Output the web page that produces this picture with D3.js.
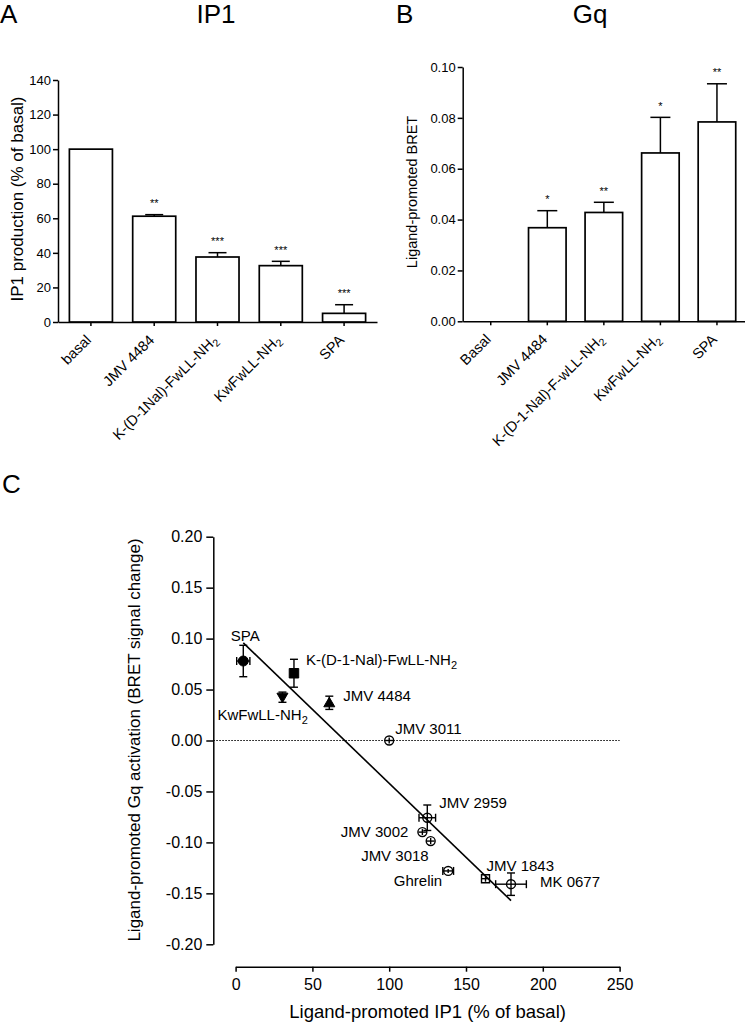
<!DOCTYPE html>
<html><head><meta charset="utf-8">
<script src="https://cdn.jsdelivr.net/npm/d3@7"></script>
<style>
body{margin:0;background:#fff}
svg{display:block}
text{font-family:"Liberation Sans",Arial,sans-serif;fill:#000}
</style>
</head><body>
<svg id="chart" width="745" height="1024"></svg>
<script>
// ---------------- DATA ----------------
// Panel A: IP1
const categoriesA = ["basal", "JMV 4484", "K-(D-1Nal)-FwLL-NH_2", "KwFwLL-NH_2", "SPA"];
const valuesA = [100, 61.2, 37.6, 32.6, 5.0];
const errorsA = [0, 0.9, 2.5, 2.5, 5.0];
const starsA = ["", "**", "***", "***", "***"];
const ticksA = [0, 20, 40, 60, 80, 100, 120, 140];

// Panel B: Gq
const categoriesB = ["Basal", "JMV 4484", "K-(D-1-Nal)-F-wLL-NH_2", "KwFwLL-NH_2", "SPA"];
const valuesB = [0, 0.0368, 0.0428, 0.0662, 0.0784];
const errorsB = [0, 0.0067, 0.0040, 0.0140, 0.0150];
const starsB = ["", "*", "**", "*", "**"];
const ticksB = [0, 0.02, 0.04, 0.06, 0.08, 0.10];

// Panel C: correlation
const ligandsC = ["SPA", "K-(D-1-Nal)-FwLL-NH_2", "KwFwLL-NH_2", "JMV 4484", "JMV 3011",
                  "JMV 2959", "JMV 3002", "JMV 3018", "Ghrelin", "JMV 1843", "MK 0677"];
const ip1C   = [5, 38, 30.5, 61, 100, 124.8, 121.6, 127, 138.4, 162.7, 179.3];
const ip1ErrC = [4.3, 0, 0, 0, 2.5, 5.4, 2.5, 2.5, 3.5, 2.5, 10];
const gqC    = [0.078, 0.066, 0.0425, 0.037, 0, -0.0758, -0.0899, -0.0987, -0.128, -0.1356, -0.141];
const gqErrC = [0.0154, 0.0137, 0.005, 0.0065, 0.003, 0.0125, 0.003, 0.003, 0.002, 0.003, 0.011];
const markersC = ["fcircle", "fsquare", "ftridown", "ftriup", "ocircle", "ocircle",
                  "ocircle", "ocircle", "ocircle", "osquare", "ocircle"];
const ticksCx = [0, 50, 100, 150, 200, 250];
const ticksCy = [-0.20, -0.15, -0.10, -0.05, 0, 0.05, 0.10, 0.15, 0.20];

// label layout (anchor, dx, dy in px relative to marker)
const labelLayoutC = [["middle", 2, -20], ["start", 12, -8], ["start", -65, 23], ["start", 14, -1.5],
  ["start", 6, -6.5], ["start", 12, -10], ["end", -14, 5.3], ["end", -2, 19.5],
  ["end", -6, 15], ["start", 1, -8], ["start", 29, 3]];

// ---------------- DRAW ----------------
const svg = d3.select("#chart");

function richText(sel, str, subSize) {
  const parts = str.split("_");
  sel.text(null);
  sel.append("tspan").text(parts[0]);
  if (parts.length > 1) sel.append("tspan").attr("font-size", subSize).attr("dy", "0.32em").text(parts[1]);
}
function styleAxis(g, fs) {
  g.selectAll("path, line").attr("stroke", "#000").attr("stroke-width", 1.5);
  g.selectAll("text").attr("font-size", fs).attr("font-family", '"Liberation Sans",Arial,sans-serif').attr("fill", "#000");
}

function barPanel(cfg) {
  const g = svg.append("g");
  const x = d3.scaleBand().domain(cfg.cats).range(cfg.xr).paddingInner(cfg.pi).paddingOuter(cfg.po);
  const y = d3.scaleLinear().domain(cfg.ydom).range(cfg.yr);
  const ya = g.append("g").attr("transform", `translate(${cfg.xr[0]},0)`)
    .call(d3.axisLeft(y).tickValues(cfg.ticks).tickFormat(cfg.fmt).tickSize(5).tickSizeOuter(0).tickPadding(2));
  styleAxis(ya, 13);
  const xa = g.append("g").attr("transform", `translate(0,${cfg.yr[0]})`)
    .call(d3.axisBottom(x).tickSize(4).tickSizeOuter(0).tickFormat(""));
  styleAxis(xa, 13);
  const bw = x.bandwidth();
  cfg.cats.forEach((c, i) => {
    const v = cfg.vals[i], e = cfg.errs[i];
    const cx = x(c) + bw / 2;
    if (v > 0) {
      g.append("rect").attr("x", x(c)).attr("width", bw)
        .attr("y", y(v)).attr("height", y(0) - y(v))
        .attr("fill", "#fff").attr("stroke", "#000").attr("stroke-width", 1.7);
    }
    if (e > 0) {
      g.append("line").attr("x1", cx).attr("x2", cx).attr("y1", y(v)).attr("y2", y(v + e))
        .attr("stroke", "#000").attr("stroke-width", 1.5);
      g.append("line").attr("x1", cx - cfg.cap / 2).attr("x2", cx + cfg.cap / 2)
        .attr("y1", y(v + e)).attr("y2", y(v + e)).attr("stroke", "#000").attr("stroke-width", 1.5);
    }
    if (cfg.stars[i]) {
      g.append("text").attr("x", cx).attr("y", y(v + e) - 7.5).attr("text-anchor", "middle")
        .attr("font-size", 11).text(cfg.stars[i]);
    }
    const t = g.append("text").attr("text-anchor", "end").attr("font-size", 14.5)
      .attr("transform", `translate(${cx + 1},${cfg.yr[0] + 19}) rotate(-45)`);
    richText(t, c, 10.5);
  });
  g.append("text").attr("text-anchor", "middle").attr("font-size", cfg.ytfs)
    .attr("transform", `translate(${cfg.ytx},${cfg.yty}) rotate(-90)`).text(cfg.ytitle);
  g.append("text").attr("x", cfg.letterX).attr("y", 23).attr("font-size", 26).text(cfg.letter);
  g.append("text").attr("x", cfg.titleX).attr("y", 23).attr("font-size", 26).attr("text-anchor", "middle").text(cfg.title);
}

barPanel({cats: categoriesA, vals: valuesA, errs: errorsA, stars: starsA, ticks: ticksA,
  fmt: d3.format("d"), xr: [58, 377], pi: 0.32, po: 0.18, ydom: [0, 140], yr: [322, 80], cap: 18,
  ytitle: "IP1 production (% of basal)", ytfs: 17, ytx: 22.5, yty: 199,
  letter: "A", letterX: 0, title: "IP1", titleX: 216});

barPanel({cats: categoriesB, vals: valuesB, errs: errorsB, stars: starsB, ticks: ticksB,
  fmt: d => d.toFixed(2), xr: [462.7, 745], pi: 0.336, po: 0.164, ydom: [0, 0.10], yr: [321.3, 67], cap: 20,
  ytitle: "Ligand-promoted BRET", ytfs: 14.5, ytx: 417, yty: 192,
  letter: "B", letterX: 396, title: "Gq", titleX: 590});

// ---------------- Panel C ----------------
const gC = svg.append("g");
const xC = d3.scaleLinear().domain([0, 250]).range([235.6, 619.6]);
const yC = d3.scaleLinear().domain([-0.2, 0.2]).range([944.3, 536.7]);
const yAxisX = 213.3, xAxisY = 966.7;

const yaC = gC.append("g").attr("transform", `translate(${yAxisX},0)`)
  .call(d3.axisLeft(yC).tickValues(ticksCy).tickFormat(d => d.toFixed(2)).tickSize(7).tickSizeOuter(0).tickPadding(4));
styleAxis(yaC, 16);
const xaC = gC.append("g").attr("transform", `translate(0,${xAxisY})`)
  .call(d3.axisBottom(xC).tickValues(ticksCx).tickFormat(d3.format("d")).tickSize(5).tickSizeOuter(0).tickPadding(6.5));
styleAxis(xaC, 16);

gC.append("line").attr("x1", yAxisX).attr("x2", xC(250)).attr("y1", yC(0)).attr("y2", yC(0))
  .attr("stroke", "#000").attr("stroke-width", 1).attr("stroke-dasharray", "1.5,1.5");

// regression line (least squares on the points)
const mx = d3.mean(ip1C), my = d3.mean(gqC);
let sxy = 0, sxx = 0;
ip1C.forEach((xv, i) => { sxy += (xv - mx) * (gqC[i] - my); sxx += (xv - mx) * (xv - mx); });
const slope = sxy / sxx, intercept = my - slope * mx;
const xmin = d3.min(ip1C), xmax = d3.max(ip1C);
gC.append("line").attr("x1", xC(xmin)).attr("x2", xC(xmax))
  .attr("y1", yC(intercept + slope * xmin)).attr("y2", yC(intercept + slope * xmax))
  .attr("stroke", "#000").attr("stroke-width", 1.6);

function markerShape(type) {
  if (type.endsWith("circle")) return {d: d3.symbol(d3.symbolCircle, Math.PI * (type[0] === "f" ? 25 : 20))(), r: type[0] === "f" ? 5 : 4.5};
  if (type.endsWith("square")) return {d: d3.symbol(d3.symbolSquare, type[0] === "f" ? 90 : 64)(), r: type[0] === "f" ? 4.7 : 4};
  if (type === "ftriup") return {d: "M0,-5.5L5.5,4L-5.5,4Z", r: 4.5};
  return {d: "M0,5.5L5.5,-4L-5.5,-4Z", r: 4.5};
}

ligandsC.forEach((name, i) => {
  const px = xC(ip1C[i]), py = yC(gqC[i]);
  const shp = markerShape(markersC[i]);
  const ex = xC(ip1C[i] + ip1ErrC[i]) - px;
  const ey = py - yC(gqC[i] + gqErrC[i]);
  const capW = 4;
  if (ey > 0) {
    gC.append("line").attr("x1", px).attr("x2", px).attr("y1", py - ey).attr("y2", py + ey)
      .attr("stroke", "#000").attr("stroke-width", 1.4);
    if (ey > shp.r + 0.5) {
      [py - ey, py + ey].forEach(yy => gC.append("line").attr("x1", px - capW).attr("x2", px + capW)
        .attr("y1", yy).attr("y2", yy).attr("stroke", "#000").attr("stroke-width", 1.4));
    }
  }
  if (ex > 0) {
    gC.append("line").attr("x1", px - ex).attr("x2", px + ex).attr("y1", py).attr("y2", py)
      .attr("stroke", "#000").attr("stroke-width", 1.4);
    if (ex > shp.r + 0.5) {
      [px - ex, px + ex].forEach(xx => gC.append("line").attr("x1", xx).attr("x2", xx)
        .attr("y1", py - capW).attr("y2", py + capW).attr("stroke", "#000").attr("stroke-width", 1.4));
    }
  }
  const filled = markersC[i][0] === "f";
  gC.append("path").attr("d", shp.d).attr("transform", `translate(${px},${py})`)
    .attr("fill", filled ? "#000" : "none").attr("stroke", "#000").attr("stroke-width", filled ? 1 : 1.4);
  const lay = labelLayoutC[i];
  const t = gC.append("text").attr("x", px + lay[1]).attr("y", py + lay[2])
    .attr("text-anchor", lay[0]).attr("font-size", 15);
  richText(t, name, 11);
});

gC.append("text").attr("x", xC(125)).attr("y", 1018).attr("text-anchor", "middle").attr("font-size", 18.5)
  .text("Ligand-promoted IP1 (% of basal)");
gC.append("text").attr("text-anchor", "middle").attr("font-size", 17)
  .attr("transform", `translate(140,740) rotate(-90)`)
  .text("Ligand-promoted Gq activation (BRET signal change)");
gC.append("text").attr("x", 2).attr("y", 493).attr("font-size", 26).text("C");
</script>
</body></html>
